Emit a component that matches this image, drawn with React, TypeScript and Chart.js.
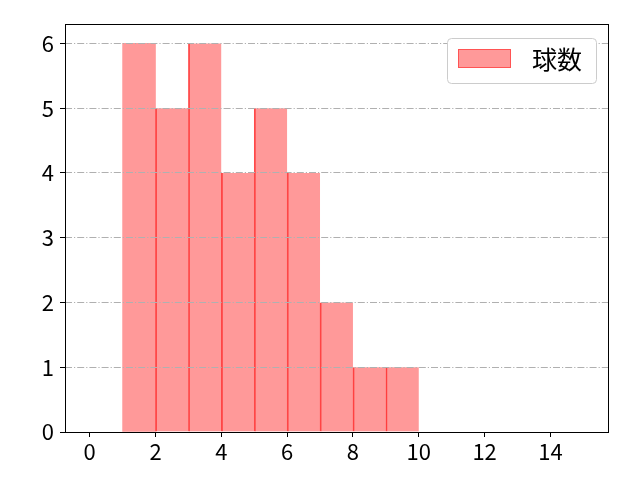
import { useEffect, useRef } from "react"
import { Chart, registerables } from "chart.js"

Chart.register(...registerables)

// 階級の下端と度数
const binStarts = [1, 2, 3, 4, 5, 6, 7, 8, 9]
const binWidth = 1
const counts = [6, 5, 6, 4, 5, 4, 2, 1, 1]
const seriesLabel = "球数"
const xTicks = [0, 2, 4, 6, 8, 10, 12, 14]
const yTicks = [0, 1, 2, 3, 4, 5, 6]

const FONT = "'Noto Sans CJK JP', 'Noto Sans', sans-serif"
const barFill = "rgba(255, 0, 0, 0.4)"
const barEdge = "rgba(255, 0, 0, 0.7)"
const legendEdge = "rgba(255, 0, 0, 0.45)"

// 四辺の枠線（画素に合わせて描く）
const framePlugin = {
  id: "frame",
  afterDraw(chart: Chart) {
    const { ctx, chartArea } = chart
    const l = Math.round(chartArea.left) + 0.5
    const t = Math.round(chartArea.top) + 0.5
    const r = Math.round(chartArea.right) + 0.5
    const b = Math.round(chartArea.bottom) + 0.5
    ctx.save()
    ctx.setLineDash([])
    ctx.strokeStyle = "#000"
    ctx.lineWidth = 1
    ctx.strokeRect(l, t, r - l, b - t)
    ctx.restore()
  },
}

// 右上の凡例（白背景の角丸枠）
const legendBoxPlugin = {
  id: "legendBox",
  afterDraw(chart: Chart) {
    const { ctx, chartArea } = chart
    const ds = chart.data.datasets[0] as any
    const w = 149
    const h = 45
    const x = Math.round(chartArea.right) - 12 - w
    const y = Math.round(chartArea.top) + 14
    ctx.save()
    ctx.setLineDash([])
    ctx.beginPath()
    ctx.roundRect(x + 0.5, y + 0.5, w, h, 4)
    ctx.fillStyle = "#fff"
    ctx.fill()
    ctx.strokeStyle = "#cccccc"
    ctx.lineWidth = 1
    ctx.stroke()

    ctx.fillStyle = ds.backgroundColor
    ctx.fillRect(x + 11, y + 11, 53, 19)
    ctx.strokeStyle = legendEdge
    ctx.strokeRect(x + 11.5, y + 11.5, 52, 18)

    ctx.fillStyle = "#000"
    ctx.font = `25px ${FONT}`
    ctx.textBaseline = "middle"
    ctx.textAlign = "left"
    ctx.fillText(ds.label, x + 85, y + 21)
    ctx.restore()
  },
}

export default function App() {
  const chartRef = useRef<HTMLCanvasElement>(null)
  const chartInstance = useRef<Chart | null>(null)

  useEffect(() => {
    document.body.style.margin = "0"
    if (!chartRef.current) return

    if (chartInstance.current) {
      chartInstance.current.destroy()
    }

    const ctx = chartRef.current.getContext("2d")
    if (!ctx) return

    chartInstance.current = new Chart(ctx, {
      type: "bar",
      data: {
        datasets: [
          {
            label: seriesLabel,
            data: binStarts.map((b, i) => ({ x: b + binWidth / 2, y: counts[i] })),
            backgroundColor: barFill,
            borderColor: barEdge,
            // 隣り合う棒の境目だけ濃い線
            borderWidth: (c: any) =>
              c.dataIndex === 0 ? 0 : { left: 1, right: 0, top: 0, bottom: 0 },
            borderSkipped: false,
            barPercentage: 1,
            categoryPercentage: 1,
          },
        ],
      },
      options: {
        responsive: false,
        animation: false,
        layout: { padding: { left: 0, right: 32, top: 24, bottom: 0 } },
        plugins: {
          legend: { display: false },
          tooltip: { enabled: false },
        },
        scales: {
          x: {
            type: "linear",
            offset: false,
            min: -0.75,
            max: 15.75,
            afterBuildTicks: (scale) => {
              scale.ticks = xTicks.map((v) => ({ value: v }))
            },
            afterFit: (scale) => {
              scale.height = 48
            },
            grid: {
              offset: false,
              drawOnChartArea: false,
              drawTicks: true,
              tickLength: 5,
              tickColor: "#000",
              tickWidth: 1,
            },
            border: { display: true, color: "#000", width: 1 },
            ticks: {
              color: "#000",
              font: { family: FONT, size: 22 },
              padding: 1,
              maxRotation: 0,
              autoSkip: false,
            },
          },
          y: {
            type: "linear",
            min: 0,
            max: 6.3,
            afterBuildTicks: (scale) => {
              scale.ticks = yTicks.map((v) => ({ value: v }))
            },
            afterFit: (scale) => {
              scale.width = 65
            },
            grid: {
              color: "#b0b0b0",
              lineWidth: 1,
              drawTicks: true,
              tickLength: 5,
              tickColor: "#000",
              tickWidth: 1,
              tickBorderDash: [],
              z: 1,
            },
            border: { display: false, dash: [7, 2, 1.2, 2] },
            ticks: {
              color: "#000",
              font: { family: FONT, size: 22 },
              padding: 6,
            },
          },
        },
      },
      plugins: [framePlugin, legendBoxPlugin],
    })

    return () => {
      if (chartInstance.current) {
        chartInstance.current.destroy()
        chartInstance.current = null
      }
    }
  }, [])

  return (
    <div style={{ width: 640, height: 480 }}>
      <canvas ref={chartRef} width={640} height={480} />
    </div>
  )
}
